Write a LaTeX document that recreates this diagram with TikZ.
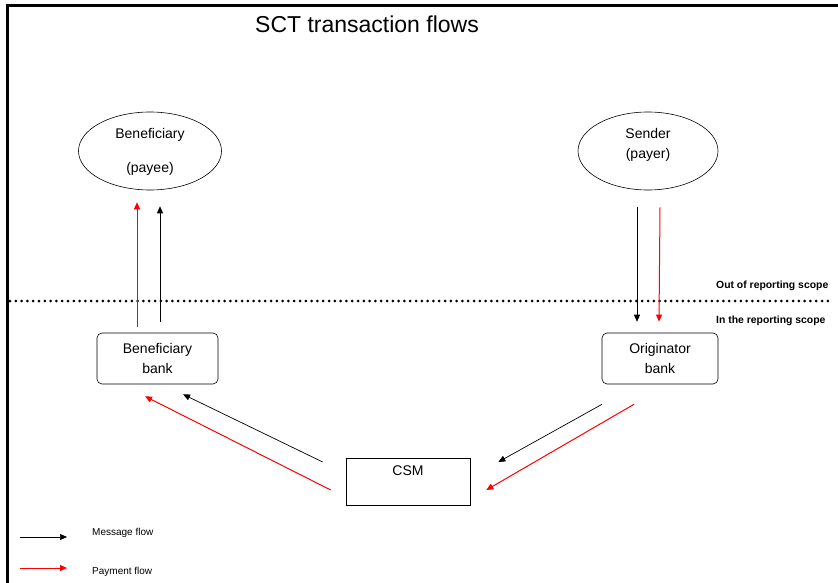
\documentclass[tikz,border=0pt]{standalone}
\usepackage{fontspec}
\setmainfont{Liberation Sans}
\usetikzlibrary{shapes.geometric,arrows.meta}

\begin{document}
\begin{tikzpicture}[x=1pt, y=-1pt,
    >={Triangle[length=7pt,width=6pt]},
    party/.style={draw, ellipse, minimum width=143pt, minimum height=78pt, inner sep=0pt, line width=0.6pt},
    bank/.style={draw, rounded corners=5pt, minimum width=121pt, minimum height=51pt, inner sep=0pt, line width=0.6pt, align=center, font=\fontsize{14}{19.5}\selectfont},
    msg/.style={black, line width=0.7pt, ->},
    pay/.style={red, line width=1pt, ->},
    txt/.style={font=\fontsize{14}{19.5}\selectfont, align=center, inner sep=0pt},
    small/.style={font=\fontsize{10}{12}\selectfont, inner sep=0pt, anchor=west}]

    \useasboundingbox (0,0) rectangle (838,583);

    % frame and title
    \draw[line width=3pt] (838,6) -- (7,6) -- (7,583);
    \node[font=\fontsize{23}{27}\selectfont] (title) at (367,24) {SCT transaction flows};

    % parties
    \node[party] (payee) at (150,151) {};
    \node[txt] (payeetxt) at (150,152) {Beneficiary\\[14.5pt](payee)};
    \node[party, minimum width=140pt] (payer) at (648,151) {};
    \node[txt] (payertxt) at (648,145) {Sender\\(payer)};

    % banks and CSM
    \node[bank] (benbank) at (157.5,358.5) {Beneficiary\\bank};
    \node[bank, minimum width=116pt] (origbank) at (660,358.5) {Originator\\bank};
    \node[draw, line width=0.6pt, minimum width=124pt, minimum height=47pt, inner sep=0pt] (csm) at (408,481.5) {};
    \node[txt, anchor=north] (csmtxt) at ([yshift=-8pt]csm.north) {CSM};

    % reporting scope
    \coordinate (scopeL) at (10,301);
    \coordinate (scopeR) at (830,301);
    \draw[line width=3pt, line cap=round, dash pattern=on 0pt off 5.8pt] (scopeL) -- (scopeR);
    \node[small, font=\bfseries\fontsize{10.4}{12}\selectfont] (outscope) at (716,286) {Out of reporting scope};
    \node[small, font=\bfseries\fontsize{10.4}{12}\selectfont] (inscope) at (716,321) {In the reporting scope};

    % payer -> originator bank
    \draw[msg] ([xshift=-11pt,yshift=-17pt]payer.south) -- ([xshift=-23pt,yshift=11pt]origbank.north);
    \draw[pay] ([xshift=12pt,yshift=-17pt]payer.south) -- ([xshift=-1pt,yshift=11pt]origbank.north);

    % originator bank -> CSM
    \draw[msg] ([xshift=-58pt,yshift=-20pt]origbank.south) -- ([xshift=28pt,yshift=19.5pt]csm.east);
    \draw[pay] ([xshift=-26pt,yshift=-20pt]origbank.south) -- ([xshift=16pt,yshift=-8.5pt]csm.east);

    % CSM -> beneficiary bank
    \draw[msg] ([xshift=-23pt,yshift=19.5pt]csm.west) -- ([xshift=25.5pt,yshift=-10pt]benbank.south);
    \draw[pay] ([xshift=-15pt,yshift=-8.5pt]csm.west) -- ([xshift=-12.5pt,yshift=-12pt]benbank.south);

    % beneficiary bank -> payee
    \draw[pay] ([xshift=-20.5pt,yshift=6pt]benbank.north) -- ([xshift=-13pt,yshift=-12pt]payee.south);
    \draw[msg] ([xshift=2.5pt,yshift=11pt]benbank.north) -- ([xshift=10pt,yshift=-16pt]payee.south);

    % legend
    \coordinate (msgA) at (20,537);
    \coordinate (msgB) at (67,537);
    \coordinate (payA) at (20,568);
    \coordinate (payB) at (67,568);
    \draw[msg] (msgA) -- (msgB);
    \draw[pay] (payA) -- (payB);
    \node[small] (msglabel) at (92,533) {Message flow};
    \node[small] (paylabel) at (92,572) {Payment flow};

\end{tikzpicture}
\end{document}
